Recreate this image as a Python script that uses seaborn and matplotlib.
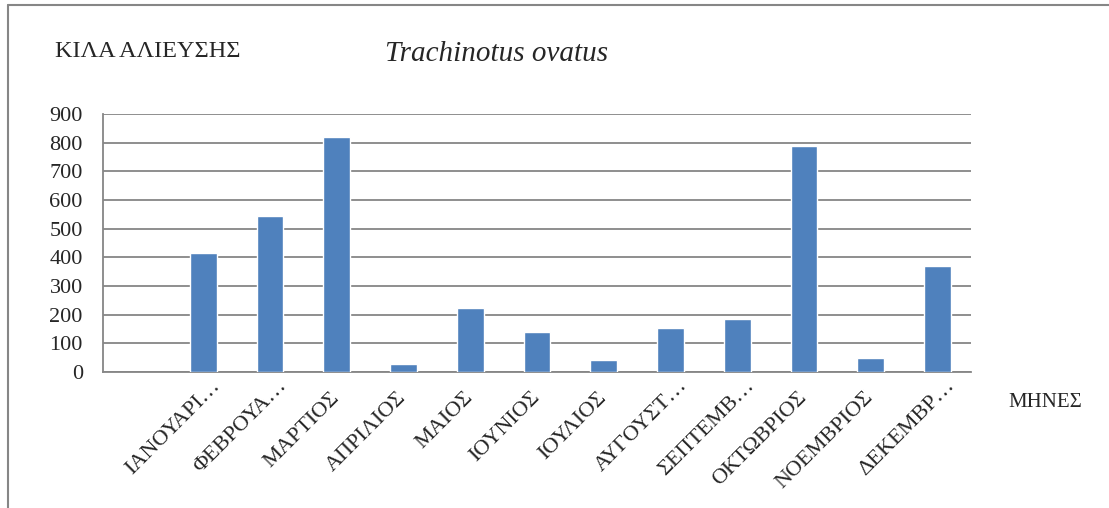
import matplotlib
matplotlib.use("Agg")
import matplotlib.pyplot as plt
from matplotlib.lines import Line2D
from matplotlib.transforms import ScaledTranslation
import pandas as pd
import seaborn as sns

# Monthly catch (kg) of Trachinotus ovatus
months = ["ΙΑΝΟΥΑΡΙΟΣ", "ΦΕΒΡΟΥΑΡΙΟΣ", "ΜΑΡΤΙΟΣ", "ΑΠΡΙΛΙΟΣ", "ΜΑΙΟΣ", "ΙΟΥΝΙΟΣ",
          "ΙΟΥΛΙΟΣ", "ΑΥΓΟΥΣΤΟΣ", "ΣΕΠΤΕΜΒΡΙΟΣ", "ΟΚΤΩΒΡΙΟΣ", "ΝΟΕΜΒΡΙΟΣ", "ΔΕΚΕΜΒΡΙΟΣ"]
kilos = [415, 545, 820, 29, 225, 140, 43, 153, 185, 789, 49, 371]
# the first slot of the category axis is empty in the original
order = [""] + months
tick_labels = ["", "ΙΑΝΟΥΑΡΙ…", "ΦΕΒΡΟΥΑ…", "ΜΑΡΤΙΟΣ", "ΑΠΡΙΛΙΟΣ", "ΜΑΙΟΣ", "ΙΟΥΝΙΟΣ",
               "ΙΟΥΛΙΟΣ", "ΑΥΓΟΥΣΤ…", "ΣΕΠΤΕΜΒ…", "ΟΚΤΩΒΡΙΟΣ", "ΝΟΕΜΒΡΙΟΣ", "ΔΕΚΕΜΒΡ…"]
y_ticks = [0, 100, 200, 300, 400, 500, 600, 700, 800, 900]

df = pd.DataFrame({"month": months, "kg": kilos})

sns.set_style("white")
plt.rcParams["font.family"] = ["Liberation Serif", "DejaVu Serif"]

grey = "#868686"
fig = plt.figure(figsize=(11.09, 5.08), dpi=100)
ax = fig.add_axes([103 / 1109, 1 - 372 / 508, (971 - 103) / 1109, (372 - 114) / 508])

sns.barplot(data=df, x="month", y="kg", order=order, color="#4F81BD",
            saturation=1, width=0.4, errorbar=None, ax=ax, zorder=3)

ax.set_xlim(-0.5, len(order) - 0.5)
ax.set_ylim(0, 900)
ax.set_yticks(y_ticks)
ax.yaxis.grid(True, color=grey, linewidth=1.3, zorder=0)
ax.set_axisbelow(True)

for side in ["top", "right"]:
    ax.spines[side].set_visible(False)
for side in ["left", "bottom"]:
    ax.spines[side].set_color(grey)
    ax.spines[side].set_linewidth(1.3)

ax.tick_params(axis="y", length=4.5, width=1.3, color=grey, pad=10, labelsize=16)
ax.set_xticks(range(len(order)), labels=tick_labels)
ax.set_xticks([i - 0.5 for i in range(len(order) + 1)], minor=True)
ax.tick_params(axis="x", which="major", length=0, pad=16.5, labelsize=16)
ax.tick_params(axis="x", which="minor", length=4.5, width=1.3, color=grey)
for lab in ax.get_xticklabels():
    lab.set_rotation(45)
    lab.set_ha("right")
    lab.set_va("center")
    lab.set_rotation_mode("anchor")
    # truncated names overflow past the category centre, as in the original
    if lab.get_text().endswith("…"):
        lab.set_transform(lab.get_transform() + ScaledTranslation(0.14, 0.12, fig.dpi_scale_trans))

ax.set_xlabel("")
ax.set_ylabel("")

fig.text(55 / 1109, 1 - 57 / 508, "ΚΙΛΑ ΑΛΙΕΥΣΗΣ", fontsize=17.5, ha="left", va="baseline")
fig.text(497 / 1109, 1 - 61 / 508, "Trachinotus ovatus", fontsize=21, style="italic",
         ha="center", va="baseline")
fig.text(1045 / 1109, 1 - 407 / 508, "ΜΗΝΕΣ", fontsize=15, ha="center", va="baseline")

# outer chart frame (only left and top edges are visible in the original)
fig.add_artist(Line2D([8 / 1109, 8 / 1109], [0, 1 - 5 / 508], transform=fig.transFigure,
                      color=grey, linewidth=1.5))
fig.add_artist(Line2D([8 / 1109, 1], [1 - 5 / 508, 1 - 5 / 508], transform=fig.transFigure,
                      color=grey, linewidth=1.5))

fig.savefig("out.png", dpi=100)
